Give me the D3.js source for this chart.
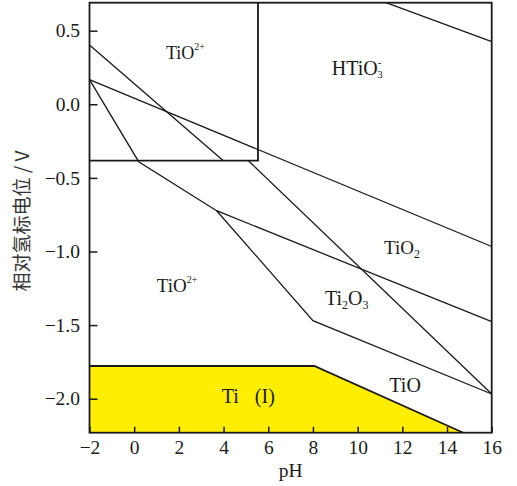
<!DOCTYPE html>
<html>
<head>
<meta charset="utf-8">
<script src="https://cdn.jsdelivr.net/npm/d3@7"></script>
<style>
  body { margin: 0; background: #fff; }
  svg { display: block; }
</style>
</head>
<body>
<svg id="svg" width="517" height="486"></svg>
<script>
// pH / potential (V vs SHE) axis limits and ticks
const phDomain = [-2, 16]
const eDomain = [-2.231, 0.69]
const phTicks = [-2, 0, 2, 4, 6, 8, 10, 12, 14, 16]
const eTicks = [-2.0, -1.5, -1.0, -0.5, 0.0, 0.5]

// boundary lines, [pH, E]
const boxLine = [[5.54, 0.69], [5.54, -0.383], [-2, -0.383]]
const lineA = [[-2, 0.403], [3.99, -0.383]]
const lineB = [[-2, 0.167], [16, -0.966]]
const lineC = [[-2, 0.167], [0.2, -0.39], [3.69, -0.723], [16, -1.477]]
const lineD = [[3.69, -0.723], [8.0, -1.47], [16, -1.968]]
const lineE = [[5.11, -0.383], [16, -1.968]]
const lineF = [[11.27, 0.69], [16, 0.425]]
const tiEdge = [[-2, -1.778], [8.06, -1.778], [14.73, -2.231]]
const tiArea = [[-2, -2.231], [-2, -1.778], [8.06, -1.778], [14.73, -2.231]]

// region labels: anchor [pH, E]
const regionNames = ['TiO2+ upper', 'HTiO3-', 'TiO2+ lower', 'TiO2', 'Ti2O3', 'TiO', 'Ti (I)']
const regionAt = [[1.42, 0.306], [8.84, 0.199], [1.01, -1.273], [11.18, -1.017], [8.54, -1.363], [11.42, -1.952], [3.92, -2.031]]

const svg = d3.select('#svg')
const margin = { left: 89.5, right: 517 - 491.7, top: 2.7, bottom: 486 - 432.7 }
const width = +svg.attr('width')
const height = +svg.attr('height')

const x = d3.scaleLinear().domain(phDomain).range([margin.left, width - margin.right])
const y = d3.scaleLinear().domain(eDomain).range([height - margin.bottom, margin.top])

const font = '"Liberation Serif", "Times New Roman", serif'
const ink = '#1a1a1a'

// Ti stable area
svg.append('path')
  .attr('d', d3.line().x(d => x(d[0])).y(d => y(d[1]))(tiArea) + 'Z')
  .attr('fill', '#ffee00')

const line = d3.line().x(d => x(d[0])).y(d => y(d[1]))
const lines = [lineA, lineB, lineC, lineD, lineE, lineF]
svg.selectAll('path.bound')
  .data(lines)
  .join('path')
  .attr('class', 'bound')
  .attr('d', line)
  .attr('fill', 'none')
  .attr('stroke', ink)
  .attr('stroke-width', 1.3)

svg.append('path').attr('d', line(boxLine))
  .attr('fill', 'none').attr('stroke', ink).attr('stroke-width', 1.8)
svg.append('path').attr('d', line(tiEdge))
  .attr('fill', 'none').attr('stroke', ink).attr('stroke-width', 1.8)

// axes, ticks inside
const xAxis = d3.axisBottom(x).tickValues(phTicks).tickFormat(d3.format('d'))
  .tickSizeInner(-6).tickSizeOuter(0).tickPadding(7)
const yAxis = d3.axisLeft(y).tickValues(eTicks).tickFormat(d3.format('.1f'))
  .tickSizeInner(-8).tickSizeOuter(0).tickPadding(9.5)

const gx = svg.append('g').attr('transform', `translate(0, ${y(eDomain[0])})`).call(xAxis)
const gy = svg.append('g').attr('transform', `translate(${x(phDomain[0])}, 0)`).call(yAxis)
;[gx, gy].forEach(g => {
  g.select('.domain').remove()
  g.selectAll('.tick line').attr('stroke', ink).attr('stroke-width', 1.5)
  g.selectAll('.tick text').attr('font-family', font).attr('font-size', 19.5).attr('fill', ink)
})

// frame
svg.append('rect')
  .attr('x', x(phDomain[0])).attr('y', y(eDomain[1]))
  .attr('width', x(phDomain[1]) - x(phDomain[0]))
  .attr('height', y(eDomain[0]) - y(eDomain[1]))
  .attr('fill', 'none').attr('stroke', ink).attr('stroke-width', 1.8)

// axis titles
svg.append('text').text('pH')
  .attr('x', (x(phDomain[0]) + x(phDomain[1])) / 2).attr('y', 477)
  .attr('text-anchor', 'middle')
  .attr('font-family', font).attr('font-size', 19.5).attr('fill', ink)

svg.append('text').text('相对氢标电位 / V')
  .attr('transform', 'translate(29, 221) rotate(-90)')
  .attr('text-anchor', 'middle')
  .attr('font-family', '"Noto Sans CJK SC", sans-serif').attr('font-size', 19).attr('fill', '#333')

// region labels
function label(i, size) {
  return svg.append('text')
    .attr('x', x(regionAt[i][0])).attr('y', y(regionAt[i][1]))
    .attr('font-family', font).attr('font-size', size).attr('fill', ink)
}

let t = label(0, 18)
t.append('tspan').text('TiO')
t.append('tspan').text('2+').attr('font-size', 10).attr('dy', -9)

t = label(1, 20)
t.append('tspan').text('HTiO')
t.append('tspan').text('-').attr('font-size', 11).attr('dy', -9)
t.append('tspan').text('3').attr('font-size', 11).attr('dx', -4).attr('dy', 12)

t = label(2, 19)
t.append('tspan').text('TiO')
t.append('tspan').text('2+').attr('font-size', 10).attr('dy', -9)

t = label(3, 19)
t.append('tspan').text('TiO')
t.append('tspan').text('2').attr('font-size', 12).attr('dy', 4)

t = label(4, 20)
t.append('tspan').text('Ti')
t.append('tspan').text('2').attr('font-size', 12).attr('dy', 4)
t.append('tspan').text('O').attr('dy', -4)
t.append('tspan').text('3').attr('font-size', 12).attr('dy', 4)

t = label(5, 20)
t.append('tspan').text('TiO')

t = label(6, 20)
t.append('tspan').text('Ti')
t.append('tspan').text('(I)').attr('dx', 16)
</script>
</body>
</html>
